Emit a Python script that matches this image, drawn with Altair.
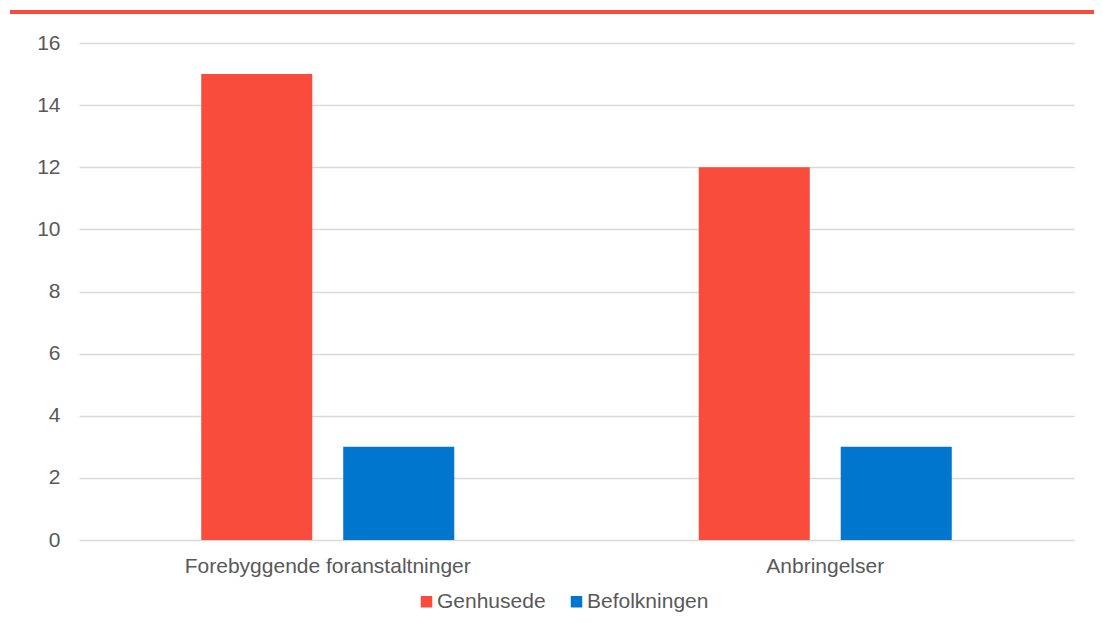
import altair as alt
import pandas as pd

categories = ["Forebyggende foranstaltninger", "Anbringelser"]
series = ["Genhusede", "Befolkningen"]
genhusede = [15, 12]
befolkningen = [3, 3]
colors = ["#F94C3C", "#0076CE"]
y_ticks = [0, 2, 4, 6, 8, 10, 12, 14, 16]

rows = []
for i, c in enumerate(categories):
    rows.append({"kategori": c, "gruppe": series[0], "vaerdi": genhusede[i]})
    rows.append({"kategori": c, "gruppe": series[1], "vaerdi": befolkningen[i]})
df = pd.DataFrame(rows)

font = "Liberation Sans"
text_color = "#595959"

bars = alt.Chart(df).mark_bar().encode(
    x=alt.X(
        "kategori:N",
        sort=categories,
        scale=alt.Scale(paddingInner=0, paddingOuter=0),
        axis=alt.Axis(
            title=None, labelAngle=0, domain=False, ticks=False, tickSize=0,
            labelPadding=15, labelFontSize=21, labelColor=text_color,
            labelFont=font, grid=False, labelLimit=600,
        ),
    ),
    xOffset=alt.XOffset(
        "gruppe:N", sort=series,
        scale=alt.Scale(paddingInner=0.218, paddingOuter=0.861),
    ),
    y=alt.Y(
        "vaerdi:Q",
        scale=alt.Scale(domain=[0, 16], nice=False),
        axis=alt.Axis(
            title=None, values=y_ticks, domain=False, ticks=False, tickSize=0,
            labelPadding=19, labelFontSize=21, labelColor=text_color,
            labelFont=font, gridColor="#D9D9D9", gridWidth=1.5,
        ),
    ),
    color=alt.Color(
        "gruppe:N",
        sort=series,
        scale=alt.Scale(domain=series, range=colors),
        legend=alt.Legend(
            title=None, orient="none", legendX=337, legendY=548,
            direction="horizontal", symbolType="square", symbolSize=132,
            symbolStrokeWidth=0, labelFontSize=21, labelFont=font,
            labelColor=text_color, columnPadding=20, labelOffset=0, padding=0,
        ),
    ),
)

top_line = alt.Chart(pd.DataFrame({"a": [0]})).mark_rule(
    color="#F94C3C", strokeWidth=4
).encode(
    x=alt.value(-69), x2=alt.value(1015), y=alt.value(-31)
)

chart = alt.layer(bars, top_line).properties(
    width=995,
    height=497,
    autosize=alt.AutoSizeParams(type="none"),
    padding={"left": 71, "top": 35, "right": 20, "bottom": 75},
    background="white",
).configure_view(stroke=None)

chart.save("out.html", embed_options={"renderer": "svg", "actions": False})
